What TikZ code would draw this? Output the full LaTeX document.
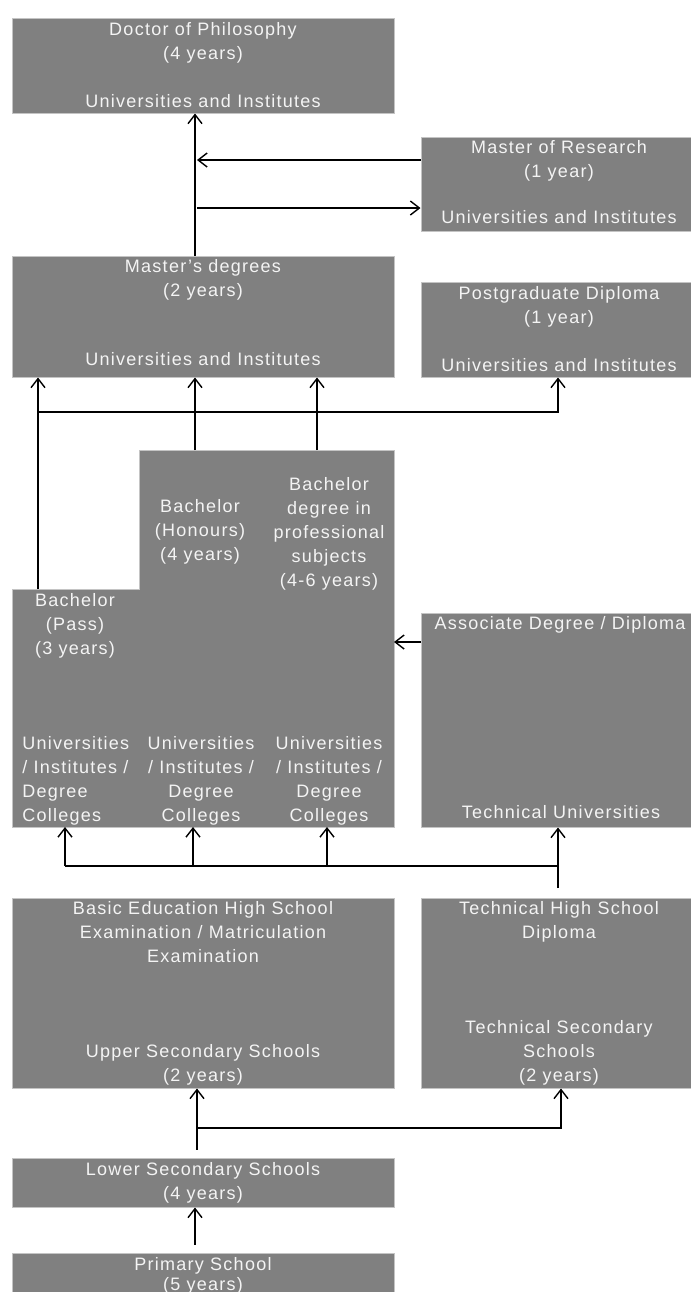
\documentclass[tikz,border=0pt]{standalone}
\usepackage{fontspec}
\setmainfont{Liberation Sans}[LetterSpace=7]
\usetikzlibrary{arrows.meta,fit}
\definecolor{boxgray}{HTML}{808080}
\definecolor{boxedge}{HTML}{C4C4C4}
\definecolor{txtwhite}{HTML}{F4F4F4}
\tikzset{
  box/.style={fill=boxgray, draw=boxedge, line width=0.5pt, inner sep=0pt},
  lbl/.style={text=txtwhite, font=\fontsize{9}{12}\selectfont, align=center, anchor=north, inner sep=0pt},
  arr/.style={-{Straight Barb[length=4.5pt,width=7pt]}, line width=0.7pt},
  bus/.style={line width=0.7pt}
}
\begin{document}
\begin{tikzpicture}[x=0.5pt,y=-0.5pt]
    \clip (0,0) rectangle (691,1292);
    % boxes
    \node[box, fit={(12,18) (394,113)}] (phd) {};
    \node[box, fit={(421,137) (693,231)}] (mres) {};
    \node[box, fit={(12,256) (394,377)}] (mast) {};
    \node[box, fit={(421,282) (693,377)}] (pgd) {};
    \draw[box] (12,589) -- (139,589) -- (139,450) -- (394,450) -- (394,827) -- (12,827) -- cycle;
    \node[box, fit={(421,613) (693,827)}] (assoc) {};
    \node[box, fit={(12,898) (394,1088)}] (basic) {};
    \node[box, fit={(421,898) (693,1088)}] (techhs) {};
    \node[box, fit={(12,1158) (394,1207)}] (lower) {};
    \node[box, fit={(12,1253) (394,1300)}] (primary) {};

    % texts
    \node[lbl] (phdtop) at (203,22) {Doctor of Philosophy\\(4 years)};
    \node[lbl] (phdbot) at (203,94) {Universities and Institutes};
    \node[lbl] (mrestop) at (559,140) {Master of Research\\(1 year)};
    \node[lbl] (mresbot) at (559,210) {Universities and Institutes};
    \node[lbl] (masttop) at (203,259) {Master's degrees\\(2 years)};
    \node[lbl] (mastbot) at (203,352) {Universities and Institutes};
    \node[lbl] (pgdtop) at (559,286) {Postgraduate Diploma\\(1 year)};
    \node[lbl] (pgdbot) at (559,358) {Universities and Institutes};
    \node[lbl] (passtxt) at (75,593) {Bachelor\\(Pass)\\(3 years)};
    \node[lbl] (honstxt) at (200,499) {Bachelor\\(Honours)\\(4 years)};
    \node[lbl] (proftxt) at (329,477) {Bachelor\\degree in\\professional\\subjects\\(4-6 years)};
    \node[lbl, anchor=north west, align=left] (colone) at (22,736) {Universities\\/ Institutes /\\Degree\\Colleges};
    \node[lbl] (coltwo) at (201,736) {Universities\\/ Institutes /\\Degree\\Colleges};
    \node[lbl] (colthree) at (329,736) {Universities\\/ Institutes /\\Degree\\Colleges};
    \node[lbl] (assoctop) at (560,616) {Associate Degree / Diploma};
    \node[lbl] (assocbot) at (561,805) {Technical Universities};
    \node[lbl] (basictop) at (203,901) {Basic Education High School\\Examination / Matriculation\\Examination};
    \node[lbl] (basicbot) at (203,1044) {Upper Secondary Schools\\(2 years)};
    \node[lbl] (techtop) at (559,901) {Technical High School\\Diploma};
    \node[lbl] (techbot) at (559,1020) {Technical Secondary\\Schools\\(2 years)};
    \node[lbl] (lowertxt) at (203,1162) {Lower Secondary Schools\\(4 years)};
    \node[lbl] (primtxt) at (203,1257) {Primary School\\[-2pt](5 years)};

    % connectors, top part
    \draw[arr] ([xshift=-4pt]mast.north) -- ([xshift=-4pt]phd.south);
    \coordinate (trunk) at ([xshift=-3pt]phd.south);
    \draw[arr] ([yshift=12pt]mres.west) -- ([yshift=12pt]mres.west -| trunk);
    \draw[arr] ([yshift=-12pt]mres.west -| trunk) -- ([yshift=-12pt]mres.west);

    % bachelor to master
    \coordinate (passup) at (38,589);
    \coordinate (honsup) at (195,450);
    \coordinate (profup) at (317,450);
    \coordinate (pgbus) at (558,412);
    \draw[arr] (passup) -- (passup |- mast.south);
    \draw[arr] (honsup) -- (honsup |- mast.south);
    \draw[arr] (profup) -- (profup |- mast.south);
    \draw[arr] (passup |- pgbus) -- (pgbus) -- (pgbus |- pgd.south);

    % associate to bachelor
    \coordinate (associn) at (421,642);
    \coordinate (bachright) at (394,642);
    \draw[arr] (associn) -- (bachright);

    % secondary to tertiary
    \coordinate (thsup) at (558,888);
    \coordinate (tubus) at (558,866);
    \coordinate (bacha) at (65,827);
    \coordinate (bachb) at (193,827);
    \coordinate (bachc) at (327,827);
    \draw[arr] (thsup) -- (thsup |- assoc.south);
    \draw[bus] (tubus -| bacha) -- (tubus);
    \draw[arr] (tubus -| bacha) -- (bacha);
    \draw[arr] (tubus -| bachb) -- (bachb);
    \draw[arr] (tubus -| bachc) -- (bachc);

    % lower secondary to upper secondary
    \coordinate (lowbus) at (561,1128);
    \draw[arr] ([xshift=-3pt,yshift=4pt]lower.north) -- ([xshift=-3pt]basic.south);
    \draw[arr] ([xshift=-3pt]lower.north |- lowbus) -- (lowbus) -- (lowbus |- techhs.south);

    % primary to lower secondary
    \draw[arr] ([xshift=-4pt,yshift=4pt]primary.north) -- ([xshift=-4pt]lower.south);
\end{tikzpicture}
\end{document}
